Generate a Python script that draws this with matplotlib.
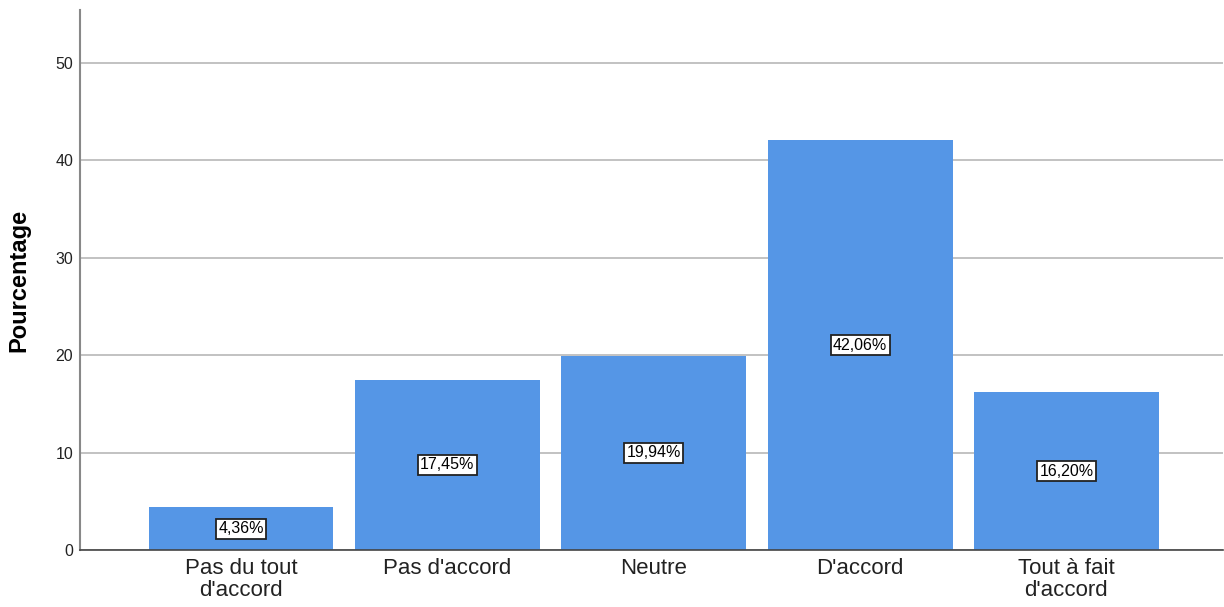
import matplotlib.pyplot as plt
import numpy as np

plt.rcParams['font.family'] = ['Liberation Sans', 'DejaVu Sans']

# Data
categories = ["Pas du tout\nd'accord", "Pas d'accord", "Neutre", "D'accord", "Tout à fait\nd'accord"]
percentages = [4.36, 17.45, 19.94, 42.06, 16.20]
value_labels = ["4,36%", "17,45%", "19,94%", "42,06%", "16,20%"]
y_ticks = [0, 10, 20, 30, 40, 50]

BAR_COLOR = '#5596e6'
GRID_COLOR = '#b8b8b8'

fig = plt.figure(figsize=(12.24, 6.07), dpi=100)
ax = fig.add_axes([0.0654, 0.094, 0.934, 0.889])

x = np.arange(len(categories))
ax.bar(x, percentages, width=0.896, color=BAR_COLOR, zorder=2)

# value labels in boxes at mid-height of each bar
for xi, val, lab in zip(x, percentages, value_labels):
    ax.text(xi, val / 2, lab, ha='center', va='center', fontsize=11.5, zorder=3,
            bbox=dict(boxstyle='square,pad=0.15', facecolor='white', edgecolor='#222222', linewidth=1.3))

ax.set_xlim(-0.78, 4.76)
ax.set_ylim(0, 55.4)
ax.set_yticks(y_ticks)
ax.set_xticks(x)
ax.set_xticklabels(categories, fontsize=16, linespacing=1.05)
ax.tick_params(axis='y', labelsize=11.5, length=0, pad=5, colors='#222222')
ax.tick_params(axis='x', length=0, pad=6, colors='#222222')

ax.grid(axis='y', color=GRID_COLOR, linewidth=1.2, zorder=0)
ax.set_axisbelow(True)

for side in ('top', 'right'):
    ax.spines[side].set_visible(False)
ax.spines['left'].set_color('#888888')
ax.spines['left'].set_linewidth(1.5)
ax.spines['bottom'].set_color('#444444')
ax.spines['bottom'].set_linewidth(1.2)

ax.set_ylabel('Pourcentage', fontsize=17, fontweight='bold', labelpad=18)

fig.savefig('out.png', dpi=100)
